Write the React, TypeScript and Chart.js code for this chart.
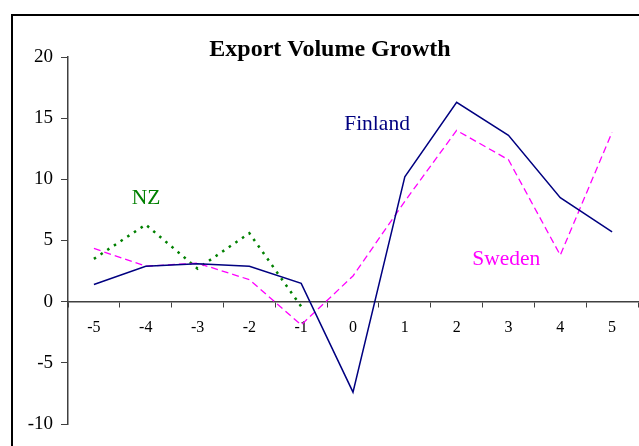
import React, { useEffect, useRef } from "react";
import { Chart, registerables } from "chart.js";

Chart.register(...registerables);

const categories = ["-5", "-4", "-3", "-2", "-1", "0", "1", "2", "3", "4", "5"];
const finland = [1.4, 2.9, 3.1, 2.9, 1.5, -7.4, 10.2, 16.3, 13.6, 8.5, 5.7];
const sweden = [4.35, 2.9, 3.15, 1.8, -1.9, 2.1, 8.2, 14.0, 11.6, 3.8, 13.85];
const nz = [3.5, 6.3, 2.7, 5.6, -0.4, null, null, null, null, null, null];

const seriesNames = ["Finland", "Sweden", "NZ"];
const seriesColors = ["#000080", "#FF00FF", "#008000"];
// label anchors in data coordinates (category index, value)
const labelX = [4.83, 7.3, 0.73];
const labelY = [14.0, 3.0, 7.96];

const titleText = "Export Volume Growth";
const SERIF = "'Liberation Serif', 'Times New Roman', serif";

const overlay = {
  id: "overlay",
  beforeDraw(chart: any) {
    const ctx = chart.ctx;
    ctx.save();
    ctx.strokeStyle = "#000";
    ctx.lineWidth = 2;
    ctx.strokeRect(12, 15, 800, 600);
    ctx.restore();
  },
  afterDraw(chart: any) {
    const ctx = chart.ctx;
    const xs = chart.scales.x;
    const ys = chart.scales.y;
    ctx.save();
    ctx.textBaseline = "alphabetic";
    ctx.textAlign = "center";
    ctx.fillStyle = "#000";
    ctx.font = `bold 24px ${SERIF}`;
    ctx.fillText(titleText, 330, 56);
    ctx.textAlign = "left";
    ctx.font = `21.5px ${SERIF}`;
    for (let i = 0; i < seriesNames.length; i++) {
      ctx.fillStyle = seriesColors[i];
      ctx.fillText(seriesNames[i], xs.getPixelForValue(labelX[i]), ys.getPixelForValue(labelY[i]));
    }
    ctx.restore();
  },
};

export default function App() {
  const ref = useRef<HTMLCanvasElement>(null);
  useEffect(() => {
    const chart = new Chart(ref.current!, {
      type: "line",
      data: {
        labels: categories,
        datasets: [
          {
            label: "Finland",
            data: finland,
            borderColor: seriesColors[0],
            borderWidth: 1.5,
            pointRadius: 0,
            tension: 0,
          },
          {
            label: "Sweden",
            data: sweden,
            borderColor: seriesColors[1],
            borderWidth: 1.3,
            borderDash: [7, 4],
            pointRadius: 0,
            tension: 0,
          },
          {
            label: "NZ",
            data: nz,
            borderColor: seriesColors[2],
            borderWidth: 2.5,
            borderDash: [2.5, 5.5],
            pointRadius: 0,
            tension: 0,
            spanGaps: false,
          },
        ],
      },
      options: {
        responsive: false,
        animation: false,
        devicePixelRatio: 1,
        layout: { padding: { top: 57, bottom: 22, left: 0, right: 1 } },
        plugins: { legend: { display: false }, tooltip: { enabled: false }, title: { display: false } },
        scales: {
          x: {
            type: "category",
            position: { y: 0 } as any,
            offset: true,
            grid: {
              display: true,
              offset: true,
              drawOnChartArea: false,
              drawTicks: true,
              tickLength: 5,
              color: "#404040",
            },
            border: { display: true, color: "#404040", width: 1.5 },
            ticks: {
              color: "#000",
              font: { family: SERIF, size: 16 },
              padding: 12,
              maxRotation: 0,
              autoSkip: false,
            },
          },
          y: {
            min: -10,
            max: 20,
            afterFit: (s: any) => {
              s.width = 68;
            },
            grid: {
              display: true,
              drawOnChartArea: false,
              drawTicks: true,
              tickLength: 7,
              color: "#404040",
            },
            border: { display: true, color: "#404040", width: 1.5 },
            ticks: {
              stepSize: 5,
              color: "#000",
              font: { family: SERIF, size: 19 },
              padding: 8,
            },
          },
        },
      },
      plugins: [overlay],
    });
    return () => chart.destroy();
  }, []);
  return (
    <div style={{ position: "absolute", left: 0, top: 0, width: 639, height: 446, background: "#fff" }}>
      <canvas ref={ref} width={639} height={446} style={{ display: "block" }} />
    </div>
  );
}
